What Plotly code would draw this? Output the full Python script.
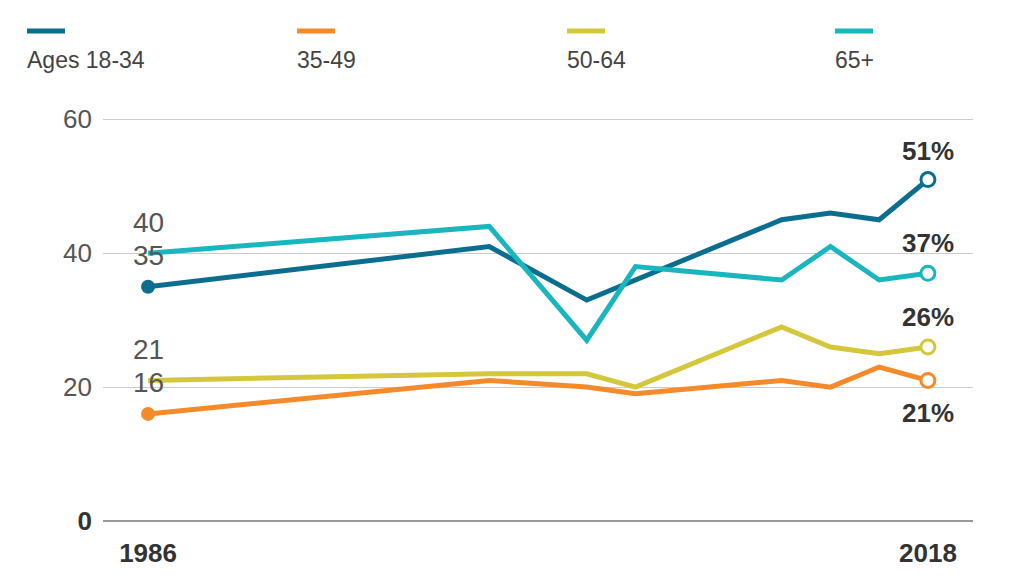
import plotly.graph_objects as go

years = [1986, 2000, 2004, 2006, 2012, 2014, 2016, 2018]
series_names = ["Ages 18-34", "35-49", "50-64", "65+"]
ages_18_34 = [35, 41, 33, 36, 45, 46, 45, 51]
ages_35_49 = [16, 21, 20, 19, 21, 20, 23, 21]
ages_50_64 = [21, 22, 22, 20, 29, 26, 25, 26]
ages_65_plus = [40, 44, 27, 38, 36, 41, 36, 37]
colors = ["#0B6E8F", "#F58A2A", "#D4C73C", "#19B6C0"]
y_ticks = [0, 20, 40, 60]
x_ticks = [1986, 2018]

all_series = [ages_18_34, ages_35_49, ages_50_64, ages_65_plus]
FONT = "Liberation Sans, Arial, sans-serif"

# page has an 8px body offset; margins compensate
ML, MR, MT, MB = 95, 58, 110, 72
PH = 585 - MT - MB
PW = 1023 - ML - MR

fig = go.Figure()

for name, vals, col in zip(series_names, all_series, colors):
    fig.add_trace(go.Scatter(x=years, y=vals, mode="lines", name=name,
                             line=dict(color=col, width=5), cliponaxis=False,
                             showlegend=False, hoverinfo="skip"))

# filled start markers for 18-34 and 35-49
for idx in (0, 1):
    fig.add_trace(go.Scatter(x=[years[0]], y=[all_series[idx][0]], mode="markers",
                             marker=dict(color=colors[idx], size=14), cliponaxis=False,
                             showlegend=False, hoverinfo="skip"))
# open end markers
for vals, col in zip(all_series, colors):
    fig.add_trace(go.Scatter(x=[years[-1]], y=[vals[-1]], mode="markers",
                             marker=dict(color="white", size=14, line=dict(color=col, width=3)),
                             cliponaxis=False, showlegend=False, hoverinfo="skip"))

annotations = []
# start labels
for vals in all_series:
    annotations.append(dict(x=years[0], y=vals[0], xref="x", yref="y", text=str(vals[0]),
                            showarrow=False, yshift=31,
                            font=dict(family=FONT, size=28, color="#555555")))
# end labels
end_shift = [29, -33, 30, 30]
for vals, sh in zip(all_series, end_shift):
    annotations.append(dict(x=years[-1], y=vals[-1], xref="x", yref="y",
                            text="<b>%d%%</b>" % vals[-1], showarrow=False, yshift=sh,
                            font=dict(family=FONT, size=26, color="#333333")))

# legend
legend_px = [27, 297, 567, 835]
shapes = []
for name, col, px in zip(series_names, colors, legend_px):
    x0 = (px - 8 - ML) / PW
    x1 = (px + 38 - 8 - ML) / PW
    ly = (MT + PH - (31 - 8)) / PH
    ty = (MT + PH - (60 - 8)) / PH
    shapes.append(dict(type="line", xref="paper", yref="paper", x0=x0, x1=x1,
                       y0=ly, y1=ly, line=dict(color=col, width=5)))
    annotations.append(dict(x=x0, y=ty, xref="paper", yref="paper",
                            text=name, showarrow=False, xanchor="left", yanchor="middle",
                            xshift=-2,
                            font=dict(family=FONT, size=23, color="#444444")))

fig.update_layout(
    width=1023, height=585,
    margin=dict(l=ML, r=MR, t=MT, b=MB),
    paper_bgcolor="white", plot_bgcolor="white",
    showlegend=False,
    annotations=annotations, shapes=shapes,
    xaxis=dict(range=[1984.15, 2019.85], tickvals=x_ticks,
               ticktext=["<b>%d</b>" % v for v in x_ticks],
               showgrid=False, zeroline=False, showline=False, ticks="",
               ticklabelstandoff=14,
               tickfont=dict(family=FONT, size=26, color="#333333")),
    yaxis=dict(range=[0, 60.2], tickvals=y_ticks,
               ticktext=['<span style="color:#333333"><b>0</b></span>', "20", "40", "60"],
               showgrid=True, gridcolor="#CCCCCC", gridwidth=1,
               zeroline=True, zerolinecolor="#999999", zerolinewidth=2,
               showline=False, ticks="", ticklabelstandoff=10,
               tickfont=dict(family=FONT, size=26, color="#555555")),
)

fig.write_html("out.html")
